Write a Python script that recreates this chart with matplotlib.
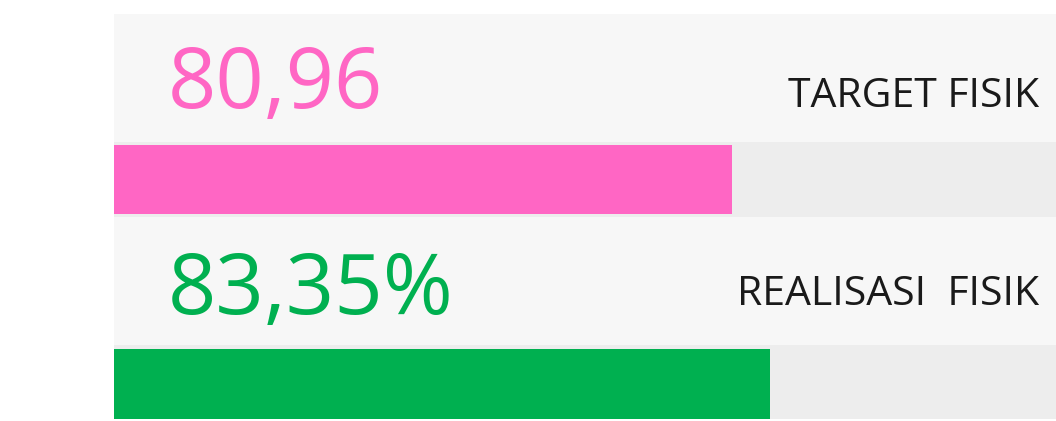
import matplotlib
matplotlib.use("Agg")
import matplotlib.pyplot as plt

# data
labels = ["TARGET FISIK", "REALISASI  FISIK"]
values = [80.96, 83.35]
value_texts = ["80,96", "83,35%"]
bar_fill = [65.6, 69.6]          # bar length, % of track
colors = ["#ff66c4", "#00b050"]

plt.rcParams['font.family'] = ['Open Sans', 'DejaVu Sans']

W, H = 1056, 421
fig = plt.figure(figsize=(W / 100, H / 100), dpi=100)
fig.patch.set_facecolor('white')
ax = fig.add_axes([114 / W, 0, 942 / W, 1])
ax.set_xlim(0, 100)
ax.set_ylim(H, 0)   # pixel rows, top = 0
ax.axis('off')

# layout per row (pixel rows): panel top, track top, track bottom, bar top, text baselines
panel_top = [14, 217]
track_top = [142, 345]
track_bot = [217, 419]
bar_top = [145, 349]
num_base = [108, 314]
lab_base = [107, 305]

for i in range(len(labels)):
    # light panel
    ax.barh((panel_top[i] + track_top[i]) / 2, 100, height=track_top[i] - panel_top[i],
            left=0, color='#f7f7f7', linewidth=0)
    # track
    ax.barh((track_top[i] + track_bot[i]) / 2, 100, height=track_bot[i] - track_top[i],
            left=0, color='#ededed', linewidth=0)
    # value bar
    b_bot = track_bot[i] - 3 if i == 0 else track_bot[i]
    ax.barh((bar_top[i] + b_bot) / 2, bar_fill[i], height=b_bot - bar_top[i],
            left=0, color=colors[i], linewidth=0)
    ax.text(5.7, num_base[i], value_texts[i], color=colors[i], fontsize=61,
            ha='left', va='baseline')
    ax.text(98.2, lab_base[i], labels[i], color='#1a1a1a', fontsize=29.5,
            ha='right', va='baseline')

fig.savefig("out.png", dpi=100)
